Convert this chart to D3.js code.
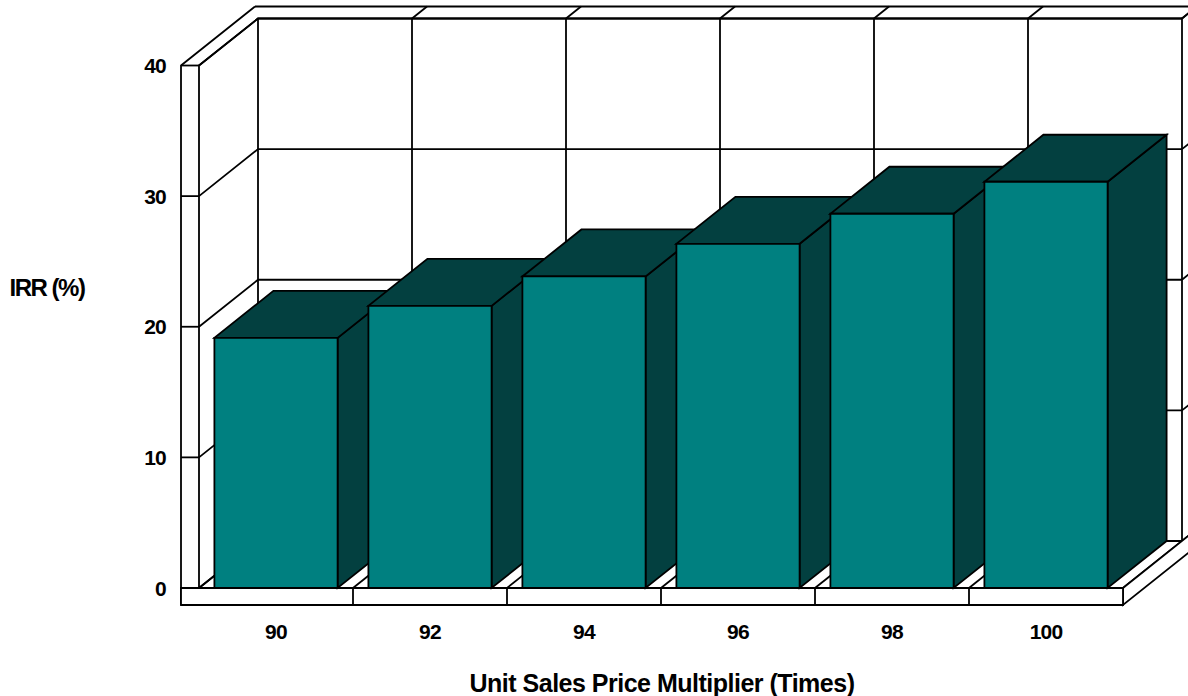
<!DOCTYPE html>
<html>
<head>
<meta charset="utf-8">
<script src="https://cdn.jsdelivr.net/npm/d3@7"></script>
<style>
  html, body { margin: 0; padding: 0; background: #ffffff; }
  svg { display: block; }
  text { font-family: "Liberation Sans", Arial, sans-serif; font-weight: bold; fill: #000; }
</style>
</head>
<body>
<svg id="chart" width="1188" height="696"></svg>
<script>
// IRR by unit sales price multiplier
const categories = ["90", "92", "94", "96", "98", "100"];
const irrValues = [19.15, 21.6, 23.85, 26.35, 28.65, 31.1];
const yTicks = [0, 10, 20, 30, 40];
const yTitle = "IRR (%)";
const xTitle = "Unit Sales Price Multiplier (Times)";

const svg = d3.select("#chart");

// plot frame (front plane)
const left = 199, right = 1123, floorY = 588, topY = 65.5;
const depth = { dx: 59, dy: -47 };     // projection of the chart depth
const wall = { dx: 15, dy: -12 };      // back-wall slab thickness
const sideWall = 18;                   // left-wall slab thickness
const slab = 17;                       // floor slab thickness

const x = d3.scaleBand().domain(categories).range([left, right])
  .paddingInner(0.2).paddingOuter(0.1);
const y = d3.scaleLinear().domain([0, 40]).range([floorY, topY]);
const step = x.step();
const bounds = d3.range(categories.length + 1).map(i => left + i * step);

const line = d3.line();
const g = svg.append("g")
  .attr("fill", "none").attr("stroke", "#000").attr("stroke-width", 1.8)
  .attr("stroke-linejoin", "miter");

const P = (px, py, off = { dx: 0, dy: 0 }) => [px + off.dx, py + off.dy];
const add = (a, b) => ({ dx: a.dx + b.dx, dy: a.dy + b.dy });
const full = add(depth, wall);

// left wall slab: outer edge, top and front face ticks
g.append("path").attr("d", line([[left - sideWall, floorY + slab], [left - sideWall, topY], P(left - sideWall, topY, full)]));
g.append("path").attr("d", line([P(left - sideWall, topY, full), P(right + full.dx + 40, topY + full.dy)]));
g.append("path").attr("d", line([[left, floorY], [left, topY], P(left, topY, depth), P(right, topY, depth)]));
yTicks.forEach(v => {
  g.append("path").attr("d", line([[left - sideWall, y(v)], [left, y(v)]]));
  // gridline across the left wall and along the back wall
  g.append("path").attr("d", line([[left, y(v)], P(left, y(v), depth), P(right, y(v), depth)]));
  // edge of the back-wall slab at the right side
  g.append("path").attr("d", line([P(right, y(v), depth), P(right, y(v), full)]));
});

// back wall verticals and slab top joints
bounds.forEach((bx, i) => {
  g.append("path").attr("d", line([P(bx, floorY, depth), P(bx, topY, depth)]));
  if (i > 0) g.append("path").attr("d", line([P(bx, topY, depth), P(bx, topY, full)]));
});

// floor depth lines at category boundaries
bounds.forEach(bx => {
  g.append("path").attr("d", line([[bx, floorY], P(bx, floorY, depth)]));
});

// floor slab: right face and front face
g.append("path").attr("fill", "#fff").attr("d", line([
  [right, floorY], [right, floorY + slab], P(right, floorY + slab, full), P(right, floorY, full)
]) + "Z");
g.append("path").attr("fill", "#fff").attr("d", line([
  [left - sideWall, floorY], [right, floorY], [right, floorY + slab], [left - sideWall, floorY + slab]
]) + "Z");
bounds.slice(1, -1).forEach(bx => {
  g.append("path").attr("d", line([[bx, floorY], [bx, floorY + slab]]));
});

// bars, drawn left to right so each front face overlaps the previous side
const front = "#008080", shade = "#034040";
categories.forEach((c, i) => {
  const x0 = x(c), x1 = x0 + x.bandwidth(), yt = y(irrValues[i]), yb = y(0);
  const bar = g.append("g");
  bar.append("path").attr("fill", shade).attr("d", line([
    [x1, yb], [x1, yt], P(x1, yt, depth), P(x1, yb, depth)
  ]) + "Z");
  bar.append("path").attr("fill", shade).attr("d", line([
    [x0, yt], [x1, yt], P(x1, yt, depth), P(x0, yt, depth)
  ]) + "Z");
  bar.append("path").attr("fill", front).attr("d", line([
    [x0, yb], [x0, yt], [x1, yt], [x1, yb]
  ]) + "Z");
});

// value axis labels
svg.append("g").selectAll("text").data(yTicks).join("text")
  .attr("x", 166).attr("y", d => y(d)).attr("dy", "0.36em")
  .attr("text-anchor", "end").attr("font-size", 21).attr("letter-spacing", "-0.8")
  .text(d => d);

// category labels
svg.append("g").selectAll("text").data(categories).join("text")
  .attr("x", d => x(d) + x.bandwidth() / 2).attr("y", 639)
  .attr("text-anchor", "middle").attr("font-size", 21).attr("letter-spacing", "-0.8")
  .text(d => d);

// axis titles
svg.append("text").attr("x", 47).attr("y", 296).attr("text-anchor", "middle")
  .attr("font-size", 24).attr("letter-spacing", "-1.5").text(yTitle);
svg.append("text").attr("x", 662).attr("y", 692).attr("text-anchor", "middle")
  .attr("font-size", 25).attr("letter-spacing", "-0.5").text(xTitle);
</script>
</body>
</html>
